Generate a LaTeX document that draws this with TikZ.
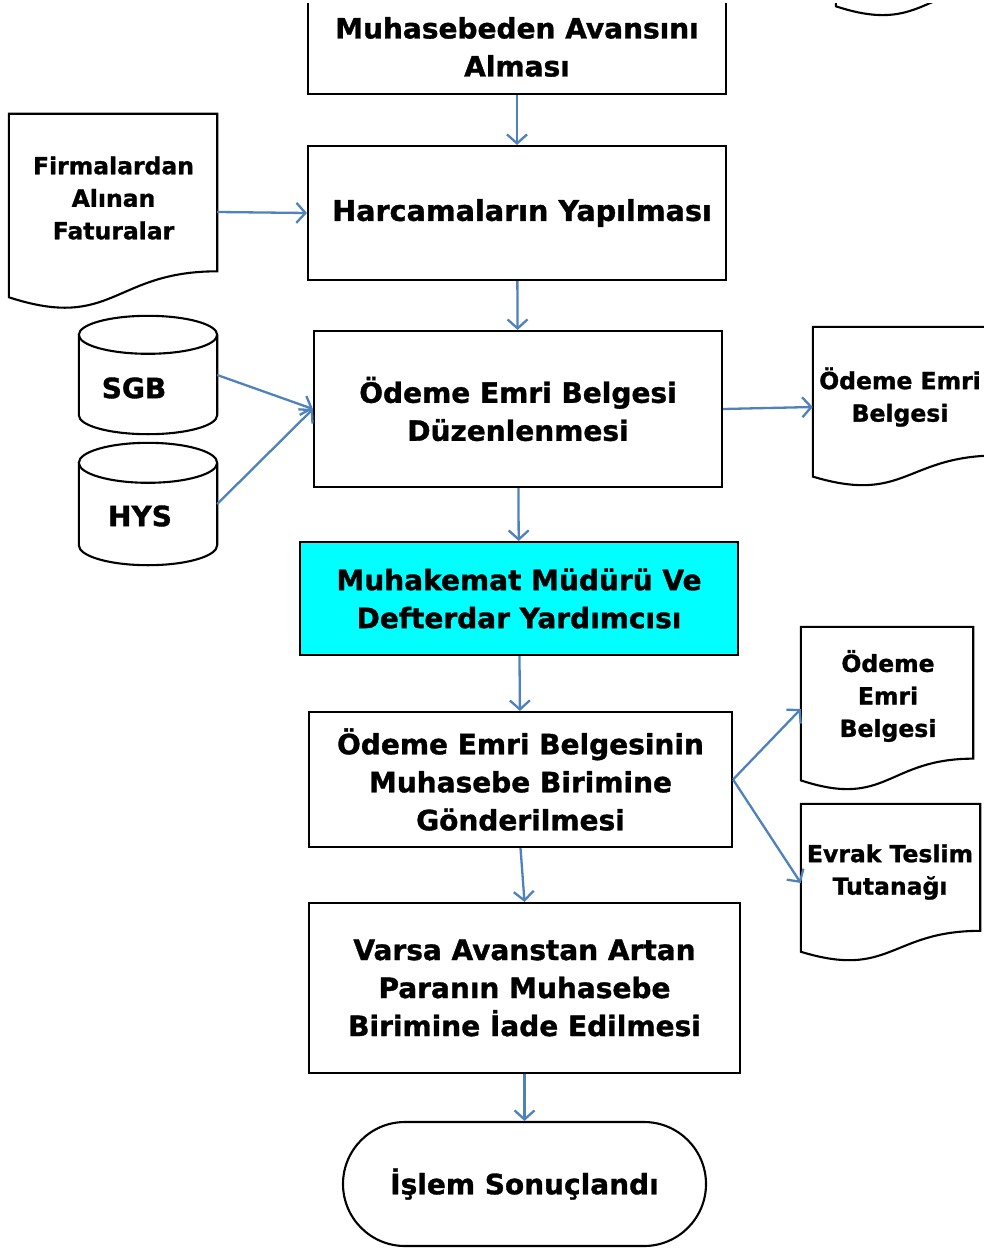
\documentclass[tikz,border=0pt]{standalone}
\usepackage{fontspec}
\setmainfont{DejaVu Sans}[BoldFeatures={FakeBold=1.2}]
\usetikzlibrary{arrows.meta,calc}
\definecolor{arrowblue}{HTML}{4F81BD}
\definecolor{boxcyan}{HTML}{00FFFF}
\newcommand\docshape[1]{%
  \draw[shapeline] let \p1=(#1.north), \p2=(#1.south), \n1={\y1-\y2} in
   (#1.north west) -- (#1.north east) -- ([yshift=-0.802*\n1]#1.north east)
   .. controls ([yshift=-0.802*\n1]#1.north) and ([yshift=-1.1075*\n1]#1.north) ..
   ([yshift=-0.934*\n1]#1.north west) -- cycle;}
\newcommand\cylshape[2]{%
  \draw[shapeline] let \p1=(#1.north west), \p2=(#1.south east), \n1={(\x2-\x1)/2} in
   ([yshift=-#2]#1.north) ellipse [x radius=\n1, y radius=#2pt]
   ([yshift=-#2]#1.north west) -- ([yshift=#2]#1.south west)
   arc [start angle=180, end angle=360, x radius=\n1, y radius=#2pt]
   -- ([yshift=-#2]#1.north east);}
\begin{document}
\begin{tikzpicture}[x=1pt,y=-1pt,
  shapeline/.style={draw=black,line width=2.1pt},
  box/.style={shapeline,rectangle,inner sep=0pt,align=center,
    font=\bfseries\fontsize{28}{38}\selectfont},
  docarea/.style={rectangle,draw=none,inner sep=0pt},
  doctext/.style={align=center,inner sep=0pt,font=\bfseries\fontsize{23.5}{32.5}\selectfont},
  cyltext/.style={inner sep=0pt,font=\bfseries\fontsize{28}{34}\selectfont},
  flow/.style={draw=arrowblue,line width=2.3pt,
    -{Straight Barb[length=9pt,width=20pt,line width=2.3pt]}}]
\useasboundingbox (0,0) rectangle (984,1249);
\clip (0,4) rectangle (984,1249);
% boxes
\node[box,minimum width=418,minimum height=94] (b1) at (517,47)
  {Muhasebeden Avansını\\Alması};
\node[box,minimum width=418,minimum height=134,
  font=\bfseries\fontsize{28.6}{38}\selectfont] (b2) at (517,213)
  {\hspace*{10pt}Harcamaların Yapılması};
\node[box,minimum width=408,minimum height=156] (b3) at (518,409)
  {Ödeme Emri Belgesi\\Düzenlenmesi};
\node[box,fill=boxcyan,minimum width=438,minimum height=113] (b4) at (519,598.5)
  {Muhakemat Müdürü Ve\\Defterdar Yardımcısı};
\node[box,minimum width=423,minimum height=135] (b5) at (520.5,779.5)
  {Ödeme Emri Belgesinin\\Muhasebe Birimine\\Gönderilmesi};
\node[box,minimum width=431,minimum height=170] (b6) at (524.5,988)
  {Varsa Avanstan Artan\\Paranın Muhasebe\\Birimine İade Edilmesi};
\node[box,rounded corners=62pt,minimum width=363,minimum height=124] (end) at (524.5,1184)
  {İşlem Sonuçlandı};
% documents
\node[docarea,minimum width=174,minimum height=165] (topdoc) at (923,-65.5) {};
\docshape{topdoc}
\node[docarea,minimum width=208,minimum height=196] (firm) at (113,212) {};
\docshape{firm}
\node[doctext] (firm-t) at (113.5,198) {Firmalardan\\Alınan\\Faturalar};
\node[docarea,minimum width=185,minimum height=160] (od1) at (905.5,407) {};
\docshape{od1}
\node[doctext] (od1-t) at (900,397) {Ödeme Emri\\Belgesi};
\node[docarea,minimum width=172,minimum height=164] (od2) at (887,709) {};
\docshape{od2}
\node[doctext] (od2-t) at (888,696) {Ödeme\\Emri\\Belgesi};
\node[docarea,minimum width=179,minimum height=158] (ev) at (890.5,883) {};
\docshape{ev}
\node[doctext] (ev-t) at (890,872) {Evrak Teslim\\Tutanağı};
% cylinders
\node[docarea,minimum width=138,minimum height=118] (sgb) at (148,375) {};
\cylshape{sgb}{19}
\node[cyltext] (sgb-t) at (134,388) {SGB};
\node[docarea,minimum width=138,minimum height=122] (hys) at (148,504) {};
\cylshape{hys}{20}
\node[cyltext] (hys-t) at (140,516) {HYS};
% connectors
\draw[flow] (b1) -- (b2);
\draw[flow] (b2) -- (b3);
\draw[flow] (b3) -- (b4);
\draw[flow] (b4) -- (b5);
\draw[flow] (b5.south) -- (b6.north);
\draw[flow] (b6) -- (end);
\draw[flow] (firm.east) -- (b2.west);
\draw[flow] (sgb.east) -- (b3.west);
\draw[flow] (hys.east) -- (b3.west);
\draw[flow] (b3.east) -- (od1.west);
\draw[flow] (b5.east) -- (od2.west);
\draw[flow] (b5.east) -- (ev.west);
\end{tikzpicture}
\end{document}
